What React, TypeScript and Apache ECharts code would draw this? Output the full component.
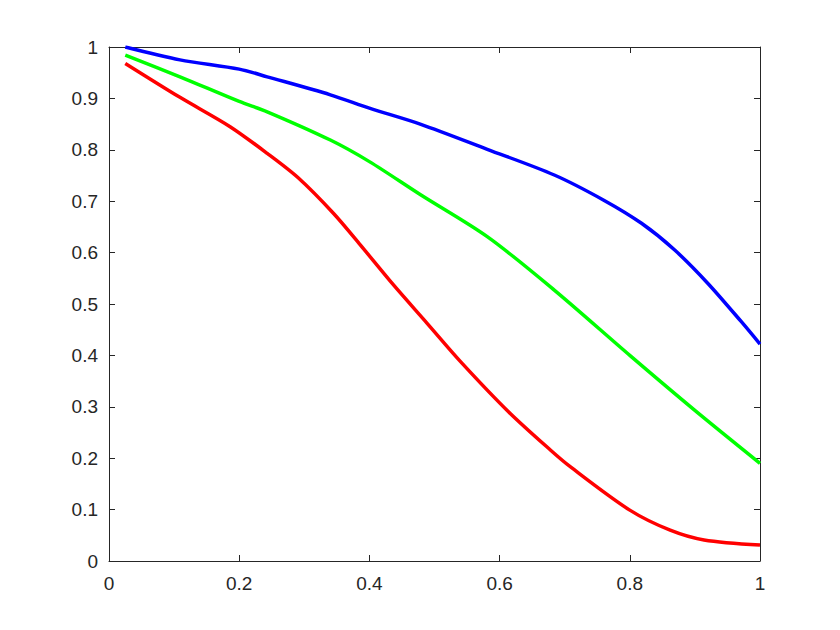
import React, { useEffect, useRef } from "react";
import * as echarts from "echarts";

const blueData: number[][] = [
  [0.025, 1.0], [0.109, 0.975], [0.2, 0.957], [0.243, 0.942], [0.34, 0.907],
  [0.4, 0.881], [0.478, 0.85], [0.581, 0.801], [0.684, 0.751], [0.76, 0.702],
  [0.818, 0.657], [0.869, 0.605], [0.92, 0.54], [0.971, 0.466], [1.0, 0.422],
];
const greenData: number[][] = [
  [0.025, 0.984], [0.109, 0.942], [0.2, 0.894], [0.243, 0.874], [0.34, 0.819],
  [0.4, 0.777], [0.478, 0.713], [0.581, 0.631], [0.684, 0.527], [0.8, 0.4],
  [0.899, 0.294], [1.0, 0.19],
];
const redData: number[][] = [
  [0.025, 0.968], [0.109, 0.902], [0.186, 0.845], [0.243, 0.793], [0.291, 0.745],
  [0.345, 0.676], [0.386, 0.615], [0.437, 0.537], [0.489, 0.462], [0.54, 0.388],
  [0.614, 0.29], [0.678, 0.216], [0.709, 0.183], [0.8, 0.099], [0.862, 0.06],
  [0.914, 0.041], [1.0, 0.031],
];

const axisColor = "#262626";
const fontFamily = "'Liberation Sans', Arial, Helvetica, sans-serif";

export default function App() {
  const ref = useRef<HTMLDivElement>(null);
  useEffect(() => {
    if (!ref.current) return;
    const chart = echarts.init(ref.current, undefined, { renderer: "svg" });
    const baseAxis = {
      type: "value" as const,
      min: 0,
      max: 1,
      axisLine: { show: true, onZero: false, lineStyle: { color: axisColor, width: 1 } },
      axisTick: { show: true, inside: true, length: 6, lineStyle: { color: axisColor } },
      splitLine: { show: false },
    };
    const mkSeries = (data: number[][], color: string) => ({
      type: "line" as const,
      data,
      xAxisIndex: 0,
      yAxisIndex: 0,
      showSymbol: false,
      symbol: "none",
      smooth: 0.3,
      lineStyle: { color, width: 3.5 },
    });
    chart.setOption({
      animation: false,
      backgroundColor: "#ffffff",
      grid: { left: 109, top: 47, right: 80, bottom: 69, containLabel: false },
      xAxis: [
        {
          ...baseAxis,
          position: "bottom",
          interval: 0.2,
          axisLabel: { color: axisColor, fontSize: 19, fontFamily, margin: 13,
            formatter: (v: number) => String(Math.round(v * 10) / 10) },
        },
        {
          ...baseAxis,
          position: "top",
          interval: 0.2,
          axisLabel: { show: false },
        },
      ],
      yAxis: [
        {
          ...baseAxis,
          position: "left",
          interval: 0.1,
          axisLabel: { color: axisColor, fontSize: 19, fontFamily, margin: 11,
            formatter: (v: number) => String(Math.round(v * 10) / 10) },
        },
        {
          ...baseAxis,
          position: "right",
          interval: 0.1,
          axisLabel: { show: false },
        },
      ],
      series: [
        mkSeries(blueData, "#0000ff"),
        mkSeries(greenData, "#00ff00"),
        mkSeries(redData, "#ff0000"),
      ],
    });
    return () => chart.dispose();
  }, []);
  return (
    <div
      ref={ref}
      style={{ position: "fixed", left: 0, top: 0, width: 840, height: 630, background: "#fff" }}
    />
  );
}
